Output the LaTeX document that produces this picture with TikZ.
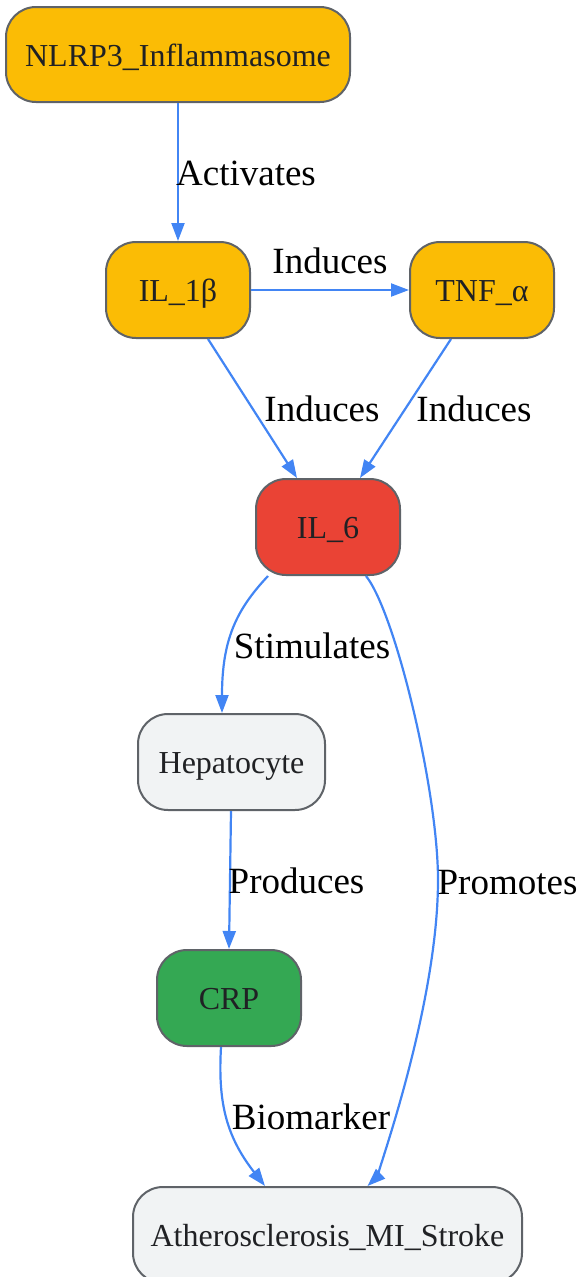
\documentclass[tikz,border=0pt]{standalone}
\usepackage{fontspec}
\setmainfont{Liberation Serif}
\usetikzlibrary{arrows.meta,calc}
\definecolor{cOrange}{HTML}{FBBC05}
\definecolor{cRed}{HTML}{EA4335}
\definecolor{cGrey}{HTML}{F1F3F4}
\definecolor{cGreen}{HTML}{34A853}
\definecolor{cBorder}{HTML}{5F6368}
\definecolor{cText}{HTML}{202124}
\definecolor{cEdge}{HTML}{4285F4}
\tikzset{
  box/.style={draw=cBorder, line width=2pt, rounded corners=30pt, inner sep=0pt,
    minimum height=96pt, text=cText, font=\fontsize{32}{36}\selectfont,
    text height=26pt, text depth=3pt},
  arr/.style={draw=cEdge, line width=2.2pt, -{Triangle[length=18pt,width=13pt]}},
  lab/.style={inner sep=0pt, text=black, font=\fontsize{37}{42}\selectfont,
    text height=25pt, text depth=3pt}
}
\begin{document}
\begin{tikzpicture}[x=1pt,y=-1pt]
\useasboundingbox (0,0) rectangle (580,1277);
\node[box, fill=cOrange, minimum width=344pt, minimum height=95pt] (nlrp) at (178,54.5) {NLRP3\_Inflammasome};
\node[box, fill=cOrange, minimum width=144pt] (il1) at (178,290) {IL\_1β};
\node[box, fill=cOrange, minimum width=144pt] (tnf) at (482,290) {TNF\_α};
\node[box, fill=cRed, minimum width=144pt] (il6) at (328,527) {IL\_6};
\node[box, fill=cGrey, minimum width=187pt] (hep) at (231.5,762) {Hepatocyte};
\node[box, fill=cGreen, minimum width=144pt] (crp) at (229,998) {CRP};
\node[box, fill=cGrey, minimum width=389pt] (ath) at (327.5,1235) {Atherosclerosis\_MI\_Stroke};

\draw[arr] (nlrp.south) -- (il1.north);
\draw[arr] (il1.east) -- (tnf.west);
\draw[arr] ($(il1.south)+(30,0)$) -- ($(il6.north)+(-31,0)$);
\draw[arr] ($(tnf.south)+(-31,0)$) -- ($(il6.north)+(32,0)$);
\draw[arr] ($(il6.south)+(-60,0)$) .. controls (236,610) and (222,640) .. ($(hep.north)+(-9.5,0)$);
\draw[arr] ($(il6.south)+(38,0)$) .. controls (395,612) and (438,790) .. (438,880)
  .. controls (438,985) and (395,1120) .. (384,1155)
  .. controls (380,1168) and (376,1178) .. ($(ath.north)+(40,0)$);
\draw[arr] ($(hep.south)+(-0.5,0)$) -- ($(crp.north)$);
\draw[arr] ($(crp.south)+(-8,0)$) .. controls (218,1100) and (225,1135) .. ($(ath.north)+(-62.5,0)$);

\node[lab] (lAct) at (246,174) {Activates};
\node[lab] (lInd1) at (330,262) {Induces};
\node[lab] (lInd2) at (322,410) {Induces};
\node[lab] (lInd3) at (474,410) {Induces};
\node[lab] (lStim) at (312,647) {Stimulates};
\node[lab] (lProd) at (296.5,882) {Produces};
\node[lab] (lProm) at (507.5,883) {Promotes};
\node[lab] (lBio) at (311,1118) {Biomarker};
\end{tikzpicture}
\end{document}
